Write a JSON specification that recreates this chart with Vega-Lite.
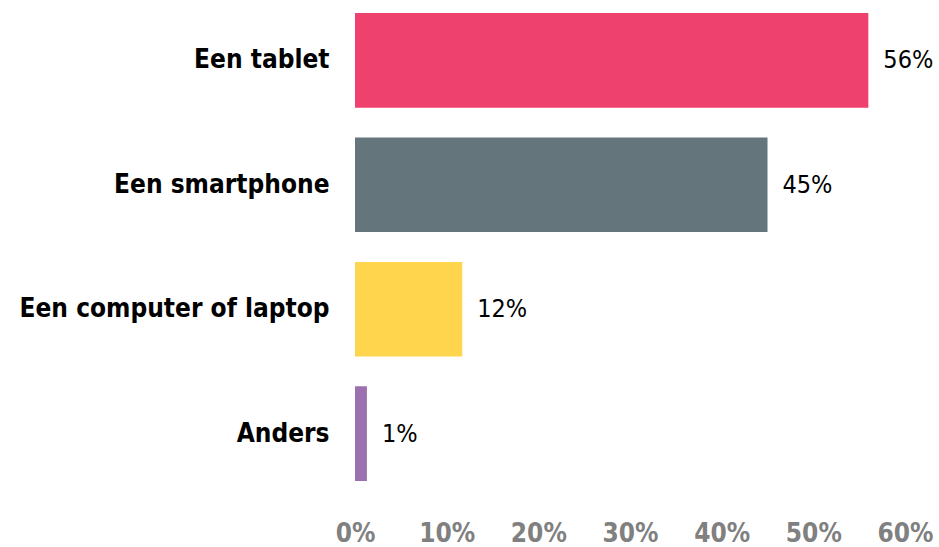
{
  "$schema": "https://vega.github.io/schema/vega-lite/v6.json",
  "autosize": "none",
  "width": 550,
  "height": 494,
  "padding": {"left": 355, "top": 0, "right": 34, "bottom": 53},
  "background": "white",
  "config": {"view": {"stroke": null}},
  "data": {
    "values": [
      {"option": "Een tablet", "value": 56, "label": "56%", "color": "#EF416D"},
      {"option": "Een smartphone", "value": 45, "label": "45%", "color": "#65757C"},
      {"option": "Een computer of laptop", "value": 11.7, "label": "12%", "color": "#FFD54D"},
      {"option": "Anders", "value": 1.3, "label": "1%", "color": "#9A70AE"}
    ]
  },
  "encoding": {
    "y": {
      "field": "option",
      "type": "nominal",
      "sort": null,
      "title": null,
      "scale": {"paddingInner": 0.24, "paddingOuter": 0.105},
      "axis": {
        "domain": false,
        "ticks": false,
        "labelPadding": 26,
        "labelFont": "DejaVu Sans Condensed, DejaVu Sans, sans-serif",
        "labelFontWeight": "bold",
        "labelFontSize": 26,
        "labelColor": "#000000",
        "labelLimit": 400
      }
    },
    "x": {
      "field": "value",
      "type": "quantitative",
      "title": null,
      "scale": {"domain": [0, 60], "nice": false},
      "axis": {
        "values": [0, 10, 20, 30, 40, 50, 60],
        "labelExpr": "datum.value + '%'",
        "domain": false,
        "ticks": false,
        "grid": false,
        "labelPadding": 26,
        "labelFont": "DejaVu Sans Condensed, DejaVu Sans, sans-serif",
        "labelFontWeight": "bold",
        "labelFontSize": 26,
        "labelColor": "#808080",
        "labelFlush": false
      }
    }
  },
  "layer": [
    {
      "mark": {"type": "bar"},
      "encoding": {
        "color": {"field": "color", "type": "nominal", "scale": null, "legend": null}
      }
    },
    {
      "mark": {
        "type": "text",
        "align": "left",
        "baseline": "middle",
        "dx": 15,
        "font": "DejaVu Sans Condensed, DejaVu Sans, sans-serif",
        "fontSize": 25,
        "fontWeight": 500,
        "color": "#000000"
      },
      "encoding": {"text": {"field": "label"}}
    }
  ]
}
